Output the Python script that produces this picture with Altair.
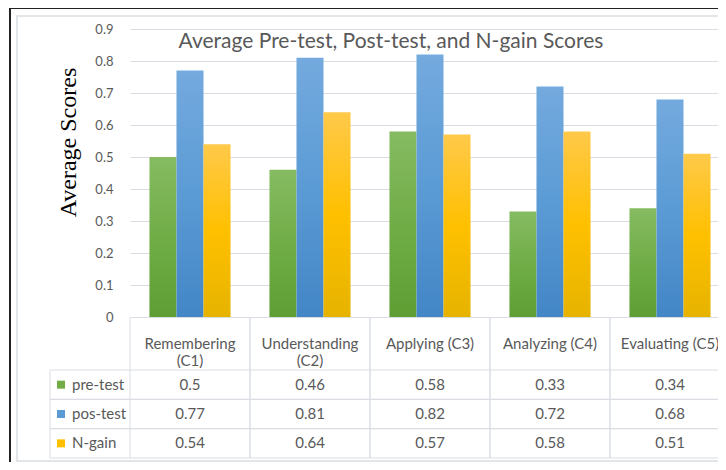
import altair as alt
import pandas as pd

# ---- data ----
categories = ["Remembering (C1)", "Understanding (C2)", "Applying (C3)", "Analyzing (C4)", "Evaluating (C5)"]
header_labels = ["Remembering\n(C1)", "Understanding\n(C2)", "Applying (C3)", "Analyzing (C4)", "Evaluating (C5)"]
series = ["pre-test", "pos-test", "N-gain"]
pre_test = [0.5, 0.46, 0.58, 0.33, 0.34]
pos_test = [0.77, 0.81, 0.82, 0.72, 0.68]
n_gain = [0.54, 0.64, 0.57, 0.58, 0.51]
title_text = "Average Pre-test, Post-test, and N-gain Scores"
y_title = "Average Scores"

values = {"pre-test": pre_test, "pos-test": pos_test, "N-gain": n_gain}
rows = []
for s in series:
    for c, v in zip(categories, values[s]):
        rows.append({"category": c, "series": s, "value": v, "label": str(v)})
df = pd.DataFrame(rows)
df_head = pd.DataFrame({"category": categories, "head": header_labels})
df_rows = pd.DataFrame({"row": series})
df_title = pd.DataFrame({"t": [title_text]})
df_one = pd.DataFrame({"k": [0]})

# ---- styling ----
W, H = 588, 429
XR = 600          # band range (last column runs past the visible edge)
BAR_H = 288
ROW_TOP = 341
FONT = "Lato"
TXT = "#595959"
GRID = "#d9dde3"
grad_stops = {
    "pre-test": ["#86bb62", "#70ad47", "#5e9e33"],
    "pos-test": ["#74aade", "#5b9bd5", "#4386c6"],
    "N-gain": ["#ffc94a", "#ffc000", "#e6b300"],
}
solid = ["#70ad47", "#5b9bd5", "#ffc000"]

xscale = alt.Scale(domain=categories, range=[0, XR], paddingInner=0, paddingOuter=0)
xenc = alt.X("category:N", sort=categories, scale=xscale, axis=None)
row_scale = alt.Scale(domain=series, range=[ROW_TOP, H], paddingInner=0, paddingOuter=0)

layers = []
for i, s in enumerate(series):
    st = grad_stops[s]
    grad = alt.Gradient(
        gradient="linear", x1=0, x2=0, y1=0, y2=1,
        stops=[alt.GradientStop(offset=0, color=st[0]),
               alt.GradientStop(offset=0.5, color=st[1]),
               alt.GradientStop(offset=1, color=st[2])],
    )
    if i == 0:
        yaxis = alt.Axis(
            values=[0, 0.1, 0.2, 0.3, 0.4, 0.5, 0.6, 0.7, 0.8, 0.9],
            format=".1~f", domain=False, ticks=False, tickSize=0,
            grid=True, gridColor=GRID, gridWidth=1,
            labelFont=FONT, labelFontSize=13, labelColor=TXT, labelPadding=17,
            title=y_title, titleFont="Liberation Serif", titleFontSize=24,
            titleFontWeight="normal", titleColor="#000000",
            titleX=-62, titleY=113, titleBaseline="middle", titleAlign="center", titleAngle=270,
        )
    else:
        yaxis = None
    layers.append(
        alt.Chart(df).transform_filter(alt.datum.series == s)
        .mark_bar(color=grad)
        .encode(
            x=xenc,
            xOffset=alt.XOffset("series:N", scale=alt.Scale(domain=series, paddingInner=0, paddingOuter=0.72)),
            y=alt.Y("value:Q", scale=alt.Scale(domain=[0, 0.9], range=[BAR_H, 0], nice=False, zero=True), axis=yaxis),
        )
    )

# table horizontal lines
for bp in [0, 1]:
    layers.append(
        alt.Chart(df_rows).mark_rule(color=GRID, strokeWidth=1).encode(
            y=alt.Y("row:N", scale=row_scale, axis=None, bandPosition=bp),
            x=alt.value(-80), x2=alt.value(XR),
        )
    )
# table vertical lines
for bp in [0, 1]:
    layers.append(
        alt.Chart(df_head).mark_rule(color=GRID, strokeWidth=1).encode(
            x=alt.X("category:N", sort=categories, scale=xscale, axis=None, bandPosition=bp),
            y=alt.value(BAR_H), y2=alt.value(H),
        )
    )
layers.append(
    alt.Chart(df_one).mark_rule(color=GRID, strokeWidth=1).encode(
        x=alt.value(-80), y=alt.value(ROW_TOP), y2=alt.value(H)
    )
)
# header labels
layers.append(
    alt.Chart(df_head).mark_text(font=FONT, fontSize=15, color=TXT, lineBreak="\n", lineHeight=17, baseline="middle")
    .encode(x=xenc, y=alt.value(315), text="head:N")
)
# values
layers.append(
    alt.Chart(df).mark_text(font=FONT, fontSize=15, color=TXT, baseline="middle")
    .encode(x=xenc, y=alt.Y("series:N", scale=row_scale, axis=None), text="label:N")
)
# row labels + legend keys
layers.append(
    alt.Chart(df_rows).mark_text(font=FONT, fontSize=15, color=TXT, align="left", baseline="middle")
    .encode(x=alt.value(-58), y=alt.Y("row:N", scale=row_scale, axis=None), text="row:N")
)
layers.append(
    alt.Chart(df_rows).mark_square(size=64, opacity=1)
    .encode(x=alt.value(-69), y=alt.Y("row:N", scale=row_scale, axis=None),
            color=alt.Color("row:N", scale=alt.Scale(domain=series, range=solid), legend=None))
)
# title
layers.append(
    alt.Chart(df_title).mark_text(font=FONT, fontSize=21, color=TXT, baseline="middle")
    .encode(x=alt.value(261), y=alt.value(13), text="t:N")
)
# borders
layers.append(
    alt.Chart(df_one).mark_rect(fill="transparent", stroke=GRID, strokeWidth=1.5)
    .encode(x=alt.value(-113), y=alt.value(-13), x2=alt.value(W + 20), y2=alt.value(432))
)
layers.append(
    alt.Chart(df_one).mark_rect(fill="transparent", stroke="#222222", strokeWidth=2)
    .encode(x=alt.value(-120), y=alt.value(-21), x2=alt.value(W + 20), y2=alt.value(H + 30))
)

chart = (
    alt.layer(*layers)
    .resolve_scale(y="independent")
    .properties(width=W, height=H, autosize=alt.AutoSizeParams(type="none"),
                padding={"left": 122, "top": 21, "right": 0, "bottom": 4})
    .configure_view(strokeWidth=0)
)

chart.save("out.html", embed_options={"renderer": "svg", "actions": False})
